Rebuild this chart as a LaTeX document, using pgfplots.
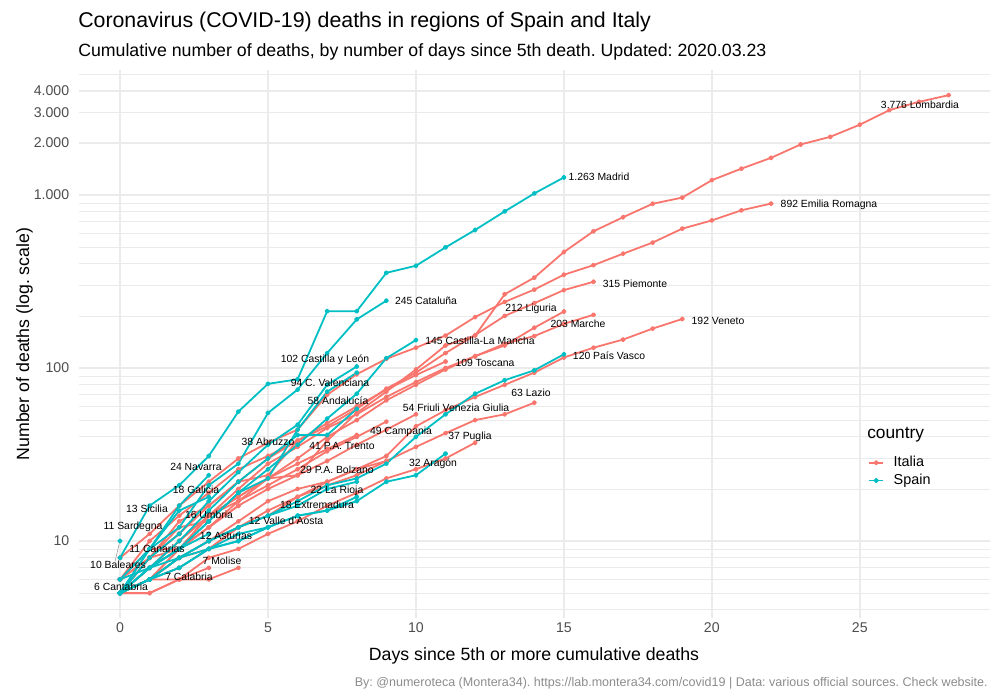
\documentclass[border=0pt]{standalone}
\usepackage{fontspec}
\setmainfont{Liberation Sans}
\usepackage{pgfplots}
\pgfplotsset{compat=1.18}
\frenchspacing
\definecolor{itc}{HTML}{F8766D}
\definecolor{esc}{HTML}{00BFC4}
\definecolor{gridc}{HTML}{EBEBEB}
\definecolor{tickc}{HTML}{4D4D4D}
\definecolor{capc}{HTML}{8C8C8C}
\pgfplotsset{
  it/.style={color=itc, line width=1.35pt, line join=round, mark=*, mark size=1.25pt, mark options={solid}},
  es/.style={color=esc, line width=1.35pt, line join=round, mark=*, mark size=1.25pt, mark options={solid}},
}
\newcommand{\labfont}{\fontsize{7.8}{9}\selectfont}
\newcommand{\lab}[3]{\node[font=\labfont, inner sep=0pt, text height=0.72em, text depth=0pt] at (#1,#2) {#3};}
\begin{document}
\begin{tikzpicture}
\path[use as bounding box] (0,0) rectangle (750pt,525pt);
\begin{axis}[
  at={(58.95pt,61.5pt)}, anchor=south west,
  scale only axis, width=683.55pt, height=411pt,
  ymode=log, log basis y=10,
  xmin=-1.4, xmax=29.4, ymin=3.59, ymax=5279,
  axis line style={draw=none},
  major tick length=0pt, minor tick length=0pt,
  xtick={0,5,10,15,20,25},
  ytick={10,100,1000,2000,3000,4000},
  yticklabels={10,100,1.000,2.000,3.000,4.000},
  minor ytick={4,5,6,7,8,9,20,30,40,50,60,70,80,90,200,300,400,500,600,700,800,900,5000},
  xmajorgrids, ymajorgrids, yminorgrids,
  major grid style={gridc, line width=1.1pt},
  minor grid style={gridc, line width=0.55pt},
  tick label style={font=\fontsize{10.6}{12}\selectfont, text=tickc},
  yticklabel style={xshift=-3.5pt},
  /pgf/number format/assume math mode=true,
  clip=false,
  legend style={at={(axis description cs:0.866,0.300)}, anchor=north west, draw=none, fill=none,
    inner sep=0pt, font=\fontsize{10.8}{13}\selectfont, legend cell align=left,
    /tikz/every odd column/.append style={column sep=5pt}},
  legend image code/.code={\draw[mark repeat=2,mark phase=2] plot coordinates {(0cm,0cm) (0.19cm,0cm) (0.38cm,0cm)};},
]
% ---------------- Italia ----------------
\addplot[it, forget plot] coordinates {(0,6)(1,9)(2,9)(3,14)(4,17)(5,23)(6,24)(7,38)(8,55)(9,73)(10,98)(11,135)(12,154)(13,267)(14,333)(15,468)(16,617)(17,744)(18,890)(19,966)(20,1218)(21,1420)(22,1640)(23,1959)(24,2168)(25,2549)(26,3095)(27,3456)(28,3776)};
\addplot[it, forget plot] coordinates {(0,8)(1,11)(2,16)(3,22)(4,30)(5,37)(6,44)(7,70)(8,92)(9,113)(10,131)(11,154)(12,197)(13,241)(14,284)(15,346)(16,393)(17,458)(18,531)(19,639)(20,713)(21,816)(22,892)};
\addplot[it, forget plot] coordinates {(0,5)(1,8)(2,13)(3,16)(4,22)(5,24)(6,38)(7,46)(8,58)(9,76)(10,94)(11,122)(12,155)(13,200)(14,237)(15,282)(16,315)};
\addplot[it, forget plot] coordinates {(0,5)(1,6)(2,8)(3,10)(4,13)(5,17)(6,20)(7,22)(8,26)(9,31)(10,46)(11,57)(12,68)(13,80)(14,94)(15,115)(16,131)(17,146)(18,169)(19,192)};
\addplot[it, forget plot] coordinates {(0,5)(1,6)(2,9)(3,14)(4,20)(5,28)(6,35)(7,45)(8,54)(9,68)(10,83)(11,100)(12,117)(13,138)(14,153)(15,180)(16,203)};
\addplot[it, forget plot] coordinates {(0,5)(1,7)(2,10)(3,14)(4,18)(5,23)(6,30)(7,40)(8,50)(9,65)(10,80)(11,98)(12,117)(13,135)(14,171)(15,212)};
\addplot[it, forget plot] coordinates {(0,6)(1,8)(2,11)(3,16)(4,22)(5,30)(6,38)(7,48)(8,60)(9,75)(10,91)(11,109)};
\addplot[it, forget plot] coordinates {(0,5)(1,6)(2,8)(3,10)(4,12)(5,15)(6,18)(7,21)(8,24)(9,29)(10,35)(11,42)(12,50)(13,54)(14,63)};
\addplot[it, forget plot] coordinates {(0,5)(1,7)(2,9)(3,12)(4,16)(5,20)(6,24)(7,29)(8,36)(9,44)(10,54)};
\addplot[it, forget plot] coordinates {(0,5)(1,8)(2,9)(3,12)(4,17)(5,21)(6,26)(7,33)(8,40)(9,49)};
\addplot[it, forget plot] coordinates {(0,5)(1,6)(2,6)(3,8)(4,9)(5,11)(6,13)(7,16)(8,19)(9,23)(10,26)(11,30)(12,37)};
\addplot[it, forget plot] coordinates {(0,6)(1,10)(2,14)(3,19)(4,26)(5,31)(6,38)};
\addplot[it, forget plot] coordinates {(0,5)(1,7)(2,10)(3,14)(4,18)(5,23)(6,28)(7,34)(8,41)};
\addplot[it, forget plot] coordinates {(0,5)(1,6)(2,8)(3,9)(4,12)(5,14)(6,18)(7,22)(8,26)(9,29)};
\addplot[it, forget plot] coordinates {(0,5)(1,8)(2,12)(3,13)};
\addplot[it, forget plot] coordinates {(0,6)(1,8)(2,11)};
\addplot[it, forget plot] coordinates {(0,5)(1,6)(2,9)(3,12)(4,16)};
\addplot[it, forget plot] coordinates {(0,5)(1,6)(2,7)(3,9)(4,12)};
\addplot[it, forget plot] coordinates {(0,5)(1,5)(2,6)(3,6)(4,7)};
\addplot[it, forget plot] coordinates {(0,5)(1,5)(2,6)(3,7)};
% ---------------- Spain ----------------
\addplot[es, forget plot] coordinates {(0,8)(1,16)(2,21)(3,31)(4,56)(5,81)(6,86)(7,213)(8,213)(9,355)(10,390)(11,498)(12,628)(13,804)(14,1021)(15,1263)};
\addplot[es, forget plot] coordinates {(0,5)(1,9)(2,12)(3,21)(4,28)(5,55)(6,75)(7,122)(8,191)(9,245)};
\addplot[es, forget plot] coordinates {(0,5)(1,7)(2,9)(3,13)(4,19)(5,26)(6,36)(7,51)(8,71)(9,114)(10,145)};
\addplot[es, forget plot] coordinates {(0,5)(1,7)(2,8)(3,10)(4,12)(5,14)(6,17)(7,21)(8,23)(9,28)(10,40)(11,54)(12,71)(13,85)(14,97)(15,120)};
\addplot[es, forget plot] coordinates {(0,5)(1,8)(2,11)(3,17)(4,25)(5,36)(6,47)(7,80)(8,102)};
\addplot[es, forget plot] coordinates {(0,5)(1,7)(2,9)(3,13)(4,19)(5,23)(6,44)(7,73)(8,94)};
\addplot[es, forget plot] coordinates {(0,5)(1,7)(2,10)(3,15)(4,22)(5,30)(6,41)(7,41)(8,58)};
\addplot[es, forget plot] coordinates {(0,5)(1,6)(2,7)(3,9)(4,11)(5,12)(6,14)(7,15)(8,17)(9,22)(10,24)(11,32)};
\addplot[es, forget plot] coordinates {(0,5)(1,9)(2,16)(3,24)};
\addplot[es, forget plot] coordinates {(0,6)(1,9)(2,15)(3,18)};
\addplot[es, forget plot] coordinates {(0,5)(1,6)(2,8)(3,10)(4,12)(5,14)(6,16)(7,20)(8,22)};
\addplot[es, forget plot] coordinates {(0,5)(1,6)(2,7)(3,9)(4,10)(5,12)(6,14)(7,15)(8,18)};
\addplot[es, forget plot] coordinates {(0,5)(1,6)(2,8)(3,9)(4,10)(5,12)};
\addplot[es, forget plot] coordinates {(0,6)(1,7)(2,9)(3,11)};
\addplot[es, forget plot] coordinates {(0,10)};
\addplot[es, forget plot] coordinates {(0,5)(1,6)};
\addlegendimage{it}\addlegendentry{Italia}
\addlegendimage{es}\addlegendentry{Spain}
\end{axis}
\begin{scope}[x=0.75pt, y=-0.75pt, shift={(0pt,525pt)}]
\node[anchor=base west, inner sep=0pt, font=\fontsize{16}{19}\selectfont] at (78,28) {Coronavirus (COVID-19) deaths in regions of Spain and Italy};
\node[anchor=base west, inner sep=0pt, font=\fontsize{13.3}{16}\selectfont] at (78,57) {Cumulative number of deaths, by number of days since 5th death. Updated: 2020.03.23};
\node[anchor=base, inner sep=0pt, font=\fontsize{13.3}{16}\selectfont] at (534,661) {Days since 5th or more cumulative deaths};
\node[anchor=base, rotate=90, inner sep=0pt, font=\fontsize{13.3}{16}\selectfont] at (29,344) {Number of deaths (log. scale)};
\node[anchor=base east, inner sep=0pt, font=\fontsize{9.4}{11}\selectfont, text=capc] at (988,687) {By: @numeroteca (Montera34). https://lab.montera34.com/covid19 | Data: various official sources. Check website.};
\node[anchor=base west, inner sep=0pt, font=\fontsize{13}{16}\selectfont] at (867,439) {country};
\draw[gray, line width=0.3pt] (115,561.7) -- (119.3,543.3);
\lab{920}{104}{3.776 Lombardia}
\lab{829}{203}{892 Emilia Romagna}
\lab{599}{176}{1.263 Madrid}
\lab{635}{283}{315 Piemonte}
\lab{718}{320}{192 Veneto}
\lab{609}{355}{120 País Vasco}
\lab{578}{323}{203 Marche}
\lab{531}{307}{212 Liguria}
\lab{426}{300}{245 Cataluña}
\lab{480}{340}{145 Castilla-La Mancha}
\lab{485}{362}{109 Toscana}
\lab{531}{392}{63 Lazio}
\lab{456}{407}{54 Friuli Venezia Giulia}
\lab{401}{430}{49 Campania}
\lab{470}{435}{37 Puglia}
\lab{433}{462}{32 Aragón}
\lab{337}{469}{29 P.A. Bolzano}
\lab{342}{445}{41 P.A. Trento}
\lab{325}{358}{102 Castilla y León}
\lab{330}{382}{94 C. Valenciana}
\lab{338}{400}{58 Andalucía}
\lab{268}{441}{38 Abruzzo}
\lab{196}{466}{24 Navarra}
\lab{196}{489}{18 Galicia}
\lab{337}{489}{22 La Rioja}
\lab{317}{504}{18 Extremadura}
\lab{147}{508}{13 Sicilia}
\lab{209}{514}{16 Umbria}
\lab{286}{520}{12 Valle d'Aosta}
\lab{133}{525}{11 Sardegna}
\lab{226}{535}{12 Asturias}
\lab{157}{548}{11 Canarias}
\lab{222}{560}{7 Molise}
\lab{118}{564}{10 Baleares}
\lab{189}{576}{7 Calabria}
\lab{121}{586}{6 Cantabria}
\end{scope}
\end{tikzpicture}
\end{document}
